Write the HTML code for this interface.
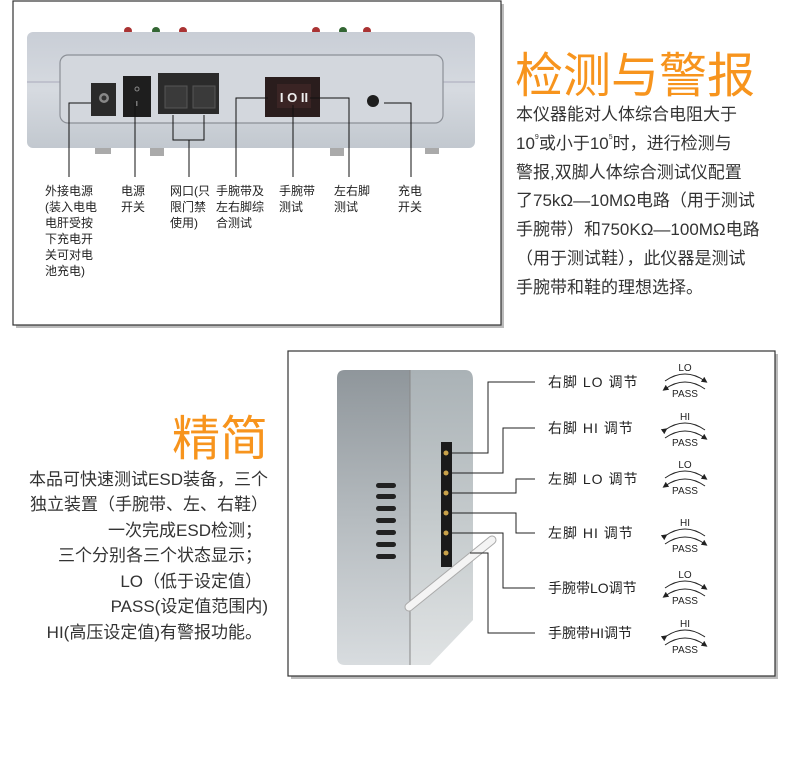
<!DOCTYPE html>
<html><head><meta charset="utf-8"><style>
html,body{margin:0;padding:0;background:#fff;}
svg{display:block;}
text{font-family:"Liberation Sans","Noto Sans CJK SC",sans-serif;}
</style></head><body>
<svg width="790" height="758" viewBox="0 0 790 758" xmlns="http://www.w3.org/2000/svg">
<defs>
<linearGradient id="dev" x1="0" y1="0" x2="0" y2="1">
<stop offset="0" stop-color="#c9ced6"/><stop offset="0.5" stop-color="#d6dae0"/><stop offset="1" stop-color="#c2c8cf"/>
</linearGradient>
<linearGradient id="side" x1="0" y1="0" x2="0" y2="1">
<stop offset="0" stop-color="#8f969b"/><stop offset="0.5" stop-color="#b5bbbf"/><stop offset="1" stop-color="#d8dcdf"/>
</linearGradient>
<linearGradient id="side2" x1="0" y1="0" x2="0" y2="1">
<stop offset="0" stop-color="#aab2b6"/><stop offset="0.5" stop-color="#c4cacc"/><stop offset="1" stop-color="#e0e3e4"/>
</linearGradient>
<marker id="ah" markerWidth="6" markerHeight="6" refX="3" refY="3" orient="auto"><path d="M0,0 L6,3 L0,6 z" fill="#222"/></marker>
</defs>

<rect x="16" y="4" width="488" height="324" fill="#bbb"/>
<rect x="13" y="1" width="488" height="324" fill="#fff" stroke="#333" stroke-width="1.2"/>
<circle cx="128" cy="31" r="4" fill="#a33"/><circle cx="156" cy="31" r="4" fill="#363"/><circle cx="183" cy="31" r="4" fill="#a33"/>
<circle cx="316" cy="31" r="4" fill="#a33"/><circle cx="343" cy="31" r="4" fill="#363"/><circle cx="367" cy="31" r="4" fill="#a33"/>
<rect x="27" y="32" width="448" height="116" rx="6" fill="url(#dev)"/>
<line x1="27" y1="82" x2="475" y2="82" stroke="#aab" stroke-width="1"/>
<rect x="60" y="55" width="383" height="68" rx="8" fill="#d3d7dd" stroke="#8c9097" stroke-width="1.2"/>
<rect x="95" y="148" width="16" height="6" fill="#aaa"/><rect x="150" y="148" width="14" height="8" fill="#aaa"/><rect x="330" y="148" width="14" height="8" fill="#aaa"/><rect x="425" y="148" width="14" height="6" fill="#aaa"/>
<rect x="91" y="83" width="25" height="33" fill="#2a2a2a"/><circle cx="104" cy="98" r="5" fill="#888"/><circle cx="104" cy="98" r="2.5" fill="#333"/>
<rect x="123" y="76" width="28" height="41" fill="#1e1e1e"/><circle cx="137" cy="89" r="2" fill="none" stroke="#888"/><rect x="136" y="101" width="1.5" height="5" fill="#777"/>
<rect x="158" y="73" width="61" height="41" fill="#2b2b2b"/><rect x="165" y="86" width="22" height="22" fill="#3a3a3a" stroke="#555"/><rect x="193" y="86" width="22" height="22" fill="#3a3a3a" stroke="#555"/>
<rect x="265" y="77" width="55" height="40" fill="#2a1d1d"/><rect x="277" y="84" width="34" height="24" fill="#3a2424"/>
<text x="294" y="102" font-size="13" fill="#eee" text-anchor="middle" font-weight="bold">I O II</text>
<circle cx="373" cy="101" r="6" fill="#1e1e1e"/>
<g stroke="#111" stroke-width="1" fill="none">
<polyline points="91,103 69,103 69,177"/>
<line x1="135" y1="103" x2="135" y2="177"/>
<polyline points="173,115 173,140 204,140 204,115"/>
<line x1="189" y1="140" x2="189" y2="177"/>
<polyline points="268,98 236,98 236,177"/>
<line x1="293" y1="105" x2="293" y2="177"/>
<polyline points="310,98 349,98 349,177"/>
<polyline points="384,103 411,103 411,177"/>
</g>
<g font-size="12" fill="#222">
<text x="45" y="195">外接电源</text><text x="45" y="211">(装入电电</text><text x="45" y="227">电肝受按</text><text x="45" y="243">下充电开</text><text x="45" y="259">关可对电</text><text x="45" y="275">池充电)</text>
<text x="121" y="195">电源</text><text x="121" y="211">开关</text>
<text x="170" y="195">网口(只</text><text x="170" y="211">限门禁</text><text x="170" y="227">使用)</text>
<text x="216" y="195">手腕带及</text><text x="216" y="211">左右脚综</text><text x="216" y="227">合测试</text>
<text x="279" y="195">手腕带</text><text x="279" y="211">测试</text>
<text x="334" y="195">左右脚</text><text x="334" y="211">测试</text>
<text x="398" y="195">充电</text><text x="398" y="211">开关</text>
</g>

<text x="515" y="92" font-size="48" fill="#f7941d">检测与警报</text>
<g font-size="17" fill="#333">
<text x="516" y="120">本仪器能对人体综合电阻大于</text>
<text x="516" y="149">10<tspan font-size="7" dy="-10">9</tspan><tspan dy="10">或小于10</tspan><tspan font-size="7" dy="-10">5</tspan><tspan dy="10">时，进行检测与</tspan></text>
<text x="516" y="178">警报,双脚人体综合测试仪配置</text>
<text x="516" y="206">了75kΩ—10MΩ电路（用于测试</text>
<text x="516" y="235">手腕带）和750KΩ—100MΩ电路</text>
<text x="516" y="264">（用于测试鞋），此仪器是测试</text>
<text x="516" y="293">手腕带和鞋的理想选择。</text>
</g>

<text x="268" y="455" font-size="48" fill="#f7941d" text-anchor="end">精简</text>
<g font-size="17" fill="#333" text-anchor="end">
<text x="268" y="485">本品可快速测试ESD装备，三个</text>
<text x="268" y="510">独立装置（手腕带、左、右鞋）</text>
<text x="262" y="536">一次完成ESD检测；</text>
<text x="262" y="561">三个分别各三个状态显示；</text>
<text x="262" y="587">LO（低于设定值）</text>
<text x="268" y="612">PASS(设定值范围内)</text>
<text x="262" y="638">HI(高压设定值)有警报功能。</text>
</g>

<rect x="291" y="354" width="487" height="325" fill="#bbb"/>
<rect x="288" y="351" width="487" height="325" fill="#fff" stroke="#333" stroke-width="1.2"/>
<path d="M345,370 L410,370 L410,665 L345,665 Q337,665 337,657 L337,378 Q337,370 345,370 z" fill="url(#side)"/>
<path d="M410,370 L465,370 Q473,370 473,380 L473,620 L430,665 L410,665 z" fill="url(#side2)"/>
<line x1="410" y1="370" x2="410" y2="665" stroke="#888" stroke-width="1"/>
<g fill="#222"><rect x="376" y="483" width="20" height="5" rx="2.5"/><rect x="376" y="494" width="20" height="5" rx="2.5"/><rect x="376" y="506" width="20" height="5" rx="2.5"/><rect x="376" y="518" width="20" height="5" rx="2.5"/><rect x="376" y="530" width="20" height="5" rx="2.5"/><rect x="376" y="542" width="20" height="5" rx="2.5"/><rect x="376" y="554" width="20" height="5" rx="2.5"/></g>
<rect x="441" y="442" width="11" height="125" fill="#1a1a1a"/>
<g fill="#c9a24a"><circle cx="446" cy="453" r="2.5"/><circle cx="446" cy="473" r="2.5"/><circle cx="446" cy="493" r="2.5"/><circle cx="446" cy="513" r="2.5"/><circle cx="446" cy="533" r="2.5"/><circle cx="446" cy="553" r="2.5"/></g>
<line x1="409" y1="607" x2="492" y2="540" stroke="#aaa" stroke-width="9" stroke-linecap="round"/>
<line x1="409" y1="607" x2="492" y2="540" stroke="#f4f4f4" stroke-width="7" stroke-linecap="round"/>
<g stroke="#222" stroke-width="1" fill="none">
<polyline points="452,453 488,453 488,382 535,382"/>
<polyline points="452,473 503,473 503,428 535,428"/>
<polyline points="452,493 516,493 516,479 535,479"/>
<polyline points="452,513 516,513 516,533 535,533"/>
<polyline points="452,533 503,533 503,588 535,588"/>
<polyline points="470,553 488,553 488,633 535,633"/>
</g>
<g font-size="14" fill="#222">
<text x="548" y="387" letter-spacing="1">右脚 LO 调节</text>
<text x="548" y="433" letter-spacing="1">右脚 HI 调节</text>
<text x="548" y="484" letter-spacing="1">左脚 LO 调节</text>
<text x="548" y="538" letter-spacing="1">左脚 HI 调节</text>
<text x="548" y="593">手腕带LO调节</text>
<text x="548" y="638">手腕带HI调节</text>
</g>
<g font-size="10" fill="#222" text-anchor="middle">
<g transform="translate(685,367)"><text x="0" y="4">LO</text><path d="M-20,14 Q0,0 20,14" stroke="#222" fill="none" marker-end="url(#ah)"/><path d="M20,22 Q0,8 -20,22" stroke="#222" fill="none" marker-end="url(#ah)"/><text x="0" y="30">PASS</text></g>
<g transform="translate(685,416)"><text x="0" y="4">HI</text><path d="M-20,14 Q0,0 20,14" stroke="#222" fill="none" marker-start="url(#ah)"/><path d="M-20,22 Q0,8 20,22" stroke="#222" fill="none" marker-end="url(#ah)"/><text x="0" y="30">PASS</text></g>
<g transform="translate(685,464)"><text x="0" y="4">LO</text><path d="M-20,14 Q0,0 20,14" stroke="#222" fill="none" marker-end="url(#ah)"/><path d="M20,22 Q0,8 -20,22" stroke="#222" fill="none" marker-end="url(#ah)"/><text x="0" y="30">PASS</text></g>
<g transform="translate(685,522)"><text x="0" y="4">HI</text><path d="M-20,14 Q0,0 20,14" stroke="#222" fill="none" marker-start="url(#ah)"/><path d="M-20,22 Q0,8 20,22" stroke="#222" fill="none" marker-end="url(#ah)"/><text x="0" y="30">PASS</text></g>
<g transform="translate(685,574)"><text x="0" y="4">LO</text><path d="M-20,14 Q0,0 20,14" stroke="#222" fill="none" marker-end="url(#ah)"/><path d="M20,22 Q0,8 -20,22" stroke="#222" fill="none" marker-end="url(#ah)"/><text x="0" y="30">PASS</text></g>
<g transform="translate(685,623)"><text x="0" y="4">HI</text><path d="M-20,14 Q0,0 20,14" stroke="#222" fill="none" marker-start="url(#ah)"/><path d="M-20,22 Q0,8 20,22" stroke="#222" fill="none" marker-end="url(#ah)"/><text x="0" y="30">PASS</text></g>
</g>
</svg>
</body></html>
